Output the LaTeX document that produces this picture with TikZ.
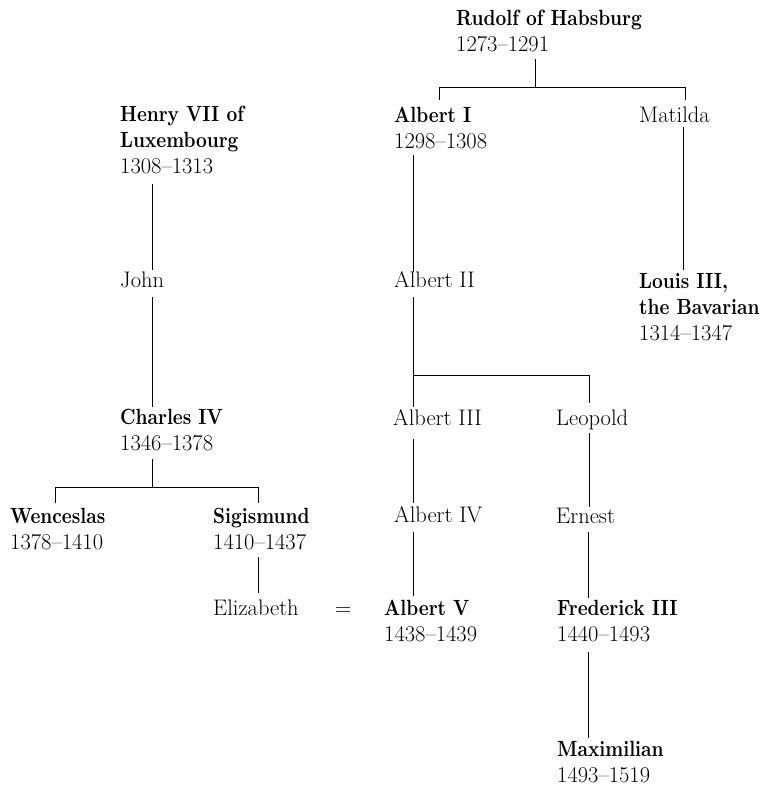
\documentclass[tikz,border=0pt]{standalone}
\usepackage{fontspec}
\newfontface\bfn{lmroman10-bold.otf}[FakeStretch=0.85]
\newcommand\pname[1]{{\fontsize{22}{26}\bfn #1}}
\newcommand\treefont{\fontsize{22.5}{26}\selectfont}
\newcommand\lines[1]{\begin{tabular}[t]{@{}l@{}}#1\end{tabular}}
\tikzset{
  person/.style={anchor=base west, inner sep=0pt, font=\treefont},
  link/.style={draw, line width=0.8pt}
}
\begin{document}
\begin{tikzpicture}[x=1pt,y=-1pt]
\useasboundingbox (0,0) rectangle (764,787);
% people
\node[person] (rudolf) at (456,25) {\lines{\pname{Rudolf of Habsburg}\\1273–1291}};
\node[person] (albertI) at (394,122) {\lines{\pname{Albert I}\\1298–1308}};
\node[person] (matilda) at (639,122) {Matilda};
\node[person] (henry) at (120,121) {\lines{\pname{Henry VII of}\\\pname{Luxembourg}\\1308–1313}};
\node[person] (john) at (120,287) {John};
\node[person] (albertII) at (394,287) {Albert II};
\node[person] (louis) at (639,288) {\lines{\pname{Louis III,}\\\pname{the Bavarian}\\1314–1347}};
\node[person] (charles) at (120,424) {\lines{\pname{Charles IV}\\1346–1378}};
\node[person] (albertIII) at (393,425) {Albert III};
\node[person] (leopold) at (556,425) {Leopold};
\node[person] (wenceslas) at (10,523) {\lines{\pname{Wenceslas}\\1378–1410}};
\node[person] (sigismund) at (213,523) {\lines{\pname{Sigismund}\\1410–1437}};
\node[person] (albertIV) at (394,522) {Albert IV};
\node[person] (ernest) at (556,523) {Ernest};
\node[person] (elizabeth) at (213,615) {Elizabeth};
\node[person] (eq) at (335,615) {=};
\node[person] (albertV) at (384,615) {\lines{\pname{Albert V}\\1438–1439}};
\node[person] (frederick) at (557,615) {\lines{\pname{Frederick III}\\1440–1493}};
\node[person] (maximilian) at (557,756) {\lines{\pname{Maximilian}\\1493–1519}};
% connector points
\coordinate (rudB) at (535,59);
\coordinate (rudJ) at (535,87);
\coordinate (rudL) at (439,87);
\coordinate (rudR) at (685,87);
\coordinate (albIT) at (439,100);
\coordinate (matT) at (685,100);
\coordinate (albIB) at (413,155);
\coordinate (albIIT) at (413,272);
\coordinate (matB) at (683,127);
\coordinate (louT) at (683,270);
\coordinate (henB) at (152,184);
\coordinate (johT) at (152,270);
\coordinate (johB) at (152,297);
\coordinate (chaT) at (152,407);
\coordinate (albIIB) at (413,297);
\coordinate (albIIIT) at (413,407);
\coordinate (a2J) at (413,375);
\coordinate (a2R) at (589,375);
\coordinate (leoT) at (589,403);
\coordinate (albIIIB) at (413,439);
\coordinate (albIVT) at (413,503);
\coordinate (leoB) at (589,433);
\coordinate (ernT) at (589,507);
\coordinate (albIVB) at (413,532);
\coordinate (albVT) at (413,596);
\coordinate (ernB) at (588,532);
\coordinate (freT) at (588,598);
\coordinate (chaB) at (152,459);
\coordinate (chaJ) at (152,487);
\coordinate (chaL) at (55,487);
\coordinate (chaR) at (258,487);
\coordinate (wenT) at (55,503);
\coordinate (sigT) at (258,503);
\coordinate (sigB) at (258,557);
\coordinate (eliT) at (258,593);
\coordinate (freB) at (588,652);
\coordinate (maxT) at (588,738);
% connectors
\draw[link] (rudB) -- (rudJ);
\draw[link] (albIT) -- (rudL) -- (rudR) -- (matT);
\draw[link] (albIB) -- (albIIT);
\draw[link] (matB) -- (louT);
\draw[link] (henB) -- (johT);
\draw[link] (johB) -- (chaT);
\draw[link] (albIIB) -- (albIIIT);
\draw[link] (a2J) -- (a2R) -- (leoT);
\draw[link] (albIIIB) -- (albIVT);
\draw[link] (leoB) -- (ernT);
\draw[link] (albIVB) -- (albVT);
\draw[link] (ernB) -- (freT);
\draw[link] (chaB) -- (chaJ);
\draw[link] (wenT) -- (chaL) -- (chaR) -- (sigT);
\draw[link] (sigB) -- (eliT);
\draw[link] (freB) -- (maxT);
\end{tikzpicture}
\end{document}
